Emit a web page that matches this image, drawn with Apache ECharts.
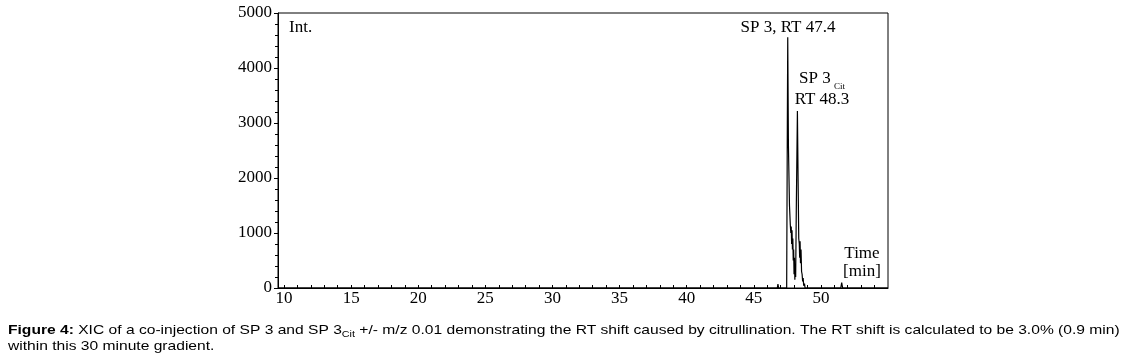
<!DOCTYPE html>
<html>
<head>
<meta charset="utf-8">
<script src="https://cdn.jsdelivr.net/npm/echarts@6/dist/echarts.min.js"></script>
<style>
html, body { margin: 0; padding: 0; background: #fff; }
#chart { width: 1126px; height: 360px; }
</style>
</head>
<body>
<div id="chart"></div>
<script>
// retention time (min) and intensity
var times = [9.55, 46.75, 46.8, 46.85, 47.45, 47.5, 47.53, 47.58, 47.66, 47.72,
    47.76, 47.79, 47.82, 47.85, 47.88, 47.91, 47.94, 47.97, 48.0, 48.03,
    48.06, 48.09, 48.12, 48.17, 48.25, 48.3, 48.35, 48.39, 48.42, 48.45,
    48.48, 48.52, 48.56, 48.6, 48.64, 48.68, 48.72, 48.78, 48.82, 51.48,
    51.55, 51.62, 55];
var intensity = [0, 0, 70, 0, 0, 3000, 4560, 2600, 1500, 1150,
    1000, 1120, 800, 1050, 700, 900, 500, 700, 250, 550,
    150, 400, 200, 1500, 3220, 2000, 900, 800, 550, 850,
    450, 700, 300, 250, 120, 180, 40, 80, 0, 0,
    100, 0, 0];
var xTickLabels = [10, 15, 20, 25, 30, 35, 40, 45, 50];
var xTicks = [];
for (var m = 10; m <= 54; m++) xTicks.push(m);

var trace = times.map(function (t, i) { return [t, intensity[i]]; });

var chart = echarts.init(document.getElementById('chart'));
var serif = '"Liberation Serif", "Times New Roman", serif';
var sans = '"Liberation Sans", Arial, sans-serif';

var option = {
    backgroundColor: '#fff',
    animation: false,
    grid: {
        left: 278,
        right: 238,
        top: 13,
        bottom: 72,
        show: true,
        borderColor: '#000',
        borderWidth: 1
    },
    xAxis: {
        type: 'value',
        min: 9.55,
        max: 55,
        axisLine: { lineStyle: { color: '#000', width: 1 } },
        axisTick: {
            inside: true,
            length: 3,
            customValues: xTicks,
            lineStyle: { color: '#000' }
        },
        axisLabel: {
            customValues: xTickLabels,
            color: '#000',
            fontFamily: serif,
            fontSize: 17,
            margin: 2
        },
        splitLine: { show: false }
    },
    yAxis: {
        type: 'value',
        min: 0,
        max: 5000,
        interval: 1000,
        axisLine: { show: true, lineStyle: { color: '#000', width: 1 } },
        axisTick: { show: true, length: 4, lineStyle: { color: '#000' } },
        minorTick: { show: true, splitNumber: 5, length: 3, lineStyle: { color: '#000' } },
        axisLabel: {
            color: '#000',
            fontFamily: serif,
            fontSize: 17,
            margin: 6,
            formatter: function (v) { return String(v); }
        },
        splitLine: { show: false }
    },
    series: [{
        type: 'line',
        data: trace,
        showSymbol: false,
        symbol: 'none',
        lineStyle: { color: '#000', width: 1.2 }
    }],
    graphic: [
        { type: 'text', x: 289, y: 19, style: { text: 'Int.', font: '17px ' + serif, fill: '#000' } },
        { type: 'text', x: 788, y: 19, style: { text: 'SP 3, RT 47.4', font: '17px ' + serif, fill: '#000', textAlign: 'center' } },
        { type: 'text', x: 799, y: 70, style: { text: 'SP 3', font: '17px ' + serif, fill: '#000' } },
        { type: 'text', x: 834, y: 82, style: { text: 'Cit', font: '9px ' + serif, fill: '#000' } },
        { type: 'text', x: 822, y: 91, style: { text: 'RT 48.3', font: '17px ' + serif, fill: '#000', textAlign: 'center' } },
        { type: 'text', x: 862, y: 245, style: { text: 'Time', font: '17px ' + serif, fill: '#000', textAlign: 'center' } },
        { type: 'text', x: 862, y: 263, style: { text: '[min]', font: '17px ' + serif, fill: '#000', textAlign: 'center' } },
        {
            type: 'text', x: 8, y: 322, scaleX: 1.2,
            style: {
                text: '{b|Figure 4:} XIC of a co-injection of SP 3 and SP 3{s|Cit} +/- m/z 0.01 demonstrating the RT shift caused by citrullination. The RT shift is calculated to be 3.0% (0.9 min)',
                font: '13px ' + sans,
                fill: '#000',
                rich: {
                    b: { fontWeight: 'bold', fontSize: 13, fontFamily: sans },
                    s: { fontSize: 9, fontFamily: sans, padding: [8, 0, 0, 0] }
                }
            }
        },
        { type: 'text', x: 8, y: 340, scaleX: 1.2, style: { text: 'within this 30 minute gradient.', font: '13px ' + sans, fill: '#000' } }
    ]
};
chart.setOption(option);
</script>
</body>
</html>
